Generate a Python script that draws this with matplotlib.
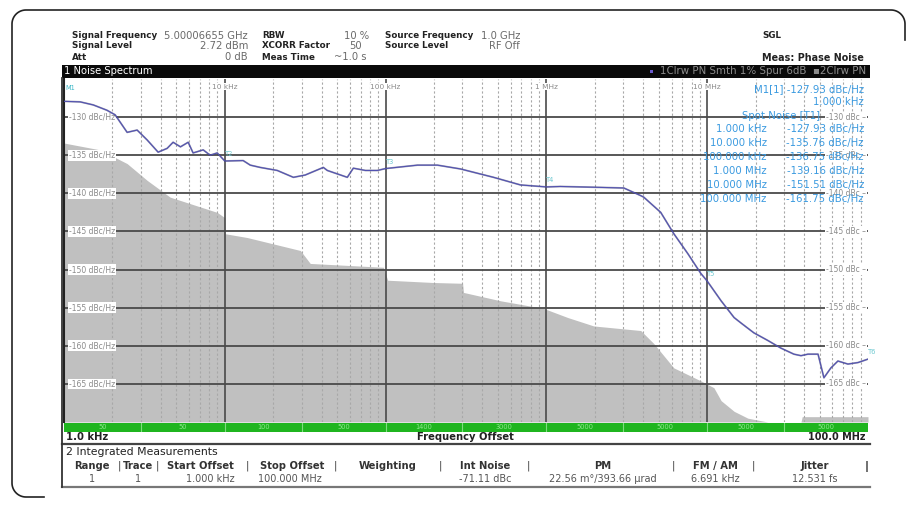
import matplotlib
matplotlib.use("Agg")
import matplotlib.pyplot as plt
from matplotlib.patches import Rectangle
from matplotlib.lines import Line2D
from matplotlib.transforms import Affine2D
import numpy as np

# ---------------- data ----------------
trace_freq_hz = [1.0e3, 1.26e3, 1.52e3, 1.85e3, 2.08e3, 2.47e3, 2.85e3, 3.29e3, 3.85e3, 4.38e3,
                 4.77e3, 5.3e3, 5.92e3, 6.35e3, 7.34e3, 8.1e3, 8.97e3, 1.0e4, 1.3e4, 1.44e4,
                 1.66e4, 2.12e4, 2.67e4, 3.16e4, 4.1e4, 4.34e4, 5.78e4, 6.3e4, 7.49e4, 8.89e4,
                 1.0e5, 1.58e5, 2.1e5, 2.92e5, 4.69e5, 6.9e5, 1.0e6, 1.22e6, 1.97e6, 3.03e6,
                 3.86e6, 4.03e6, 5.14e6, 6.2e6, 7.57e6, 9.12e6, 1.0e7, 1.22e7, 1.47e7, 1.62e7,
                 1.95e7, 2.38e7, 2.87e7, 3.46e7, 3.83e7, 4.23e7, 4.89e7, 5.32e7, 5.88e7, 6.5e7,
                 7.5e7, 8.67e7, 1.0e8]
trace_dbc = [-127.93, -128.0, -128.4, -129.1, -129.7, -132.0, -131.7, -133.0, -134.6, -134.1,
             -133.3, -133.9, -133.3, -134.7, -134.3, -135.0, -134.7, -135.76, -135.7, -136.3,
             -136.6, -137.0, -137.9, -137.6, -136.6, -137.0, -137.9, -136.7, -137.0, -137.0,
             -136.75, -136.3, -136.3, -136.8, -137.9, -138.9, -139.16, -139.1, -139.2, -139.3,
             -140.3, -140.5, -142.5, -145.3, -147.9, -150.5, -151.51, -154.1, -156.3, -157.0,
             -158.3, -159.3, -160.3, -161.1, -161.3, -161.1, -161.1, -164.2, -162.9, -162.0,
             -162.4, -162.2, -161.75]

floor_freq_hz = [1.0e3, 1.68e3, 2.47e3, 3.29e3, 4.57e3, 8.97e3, 1.0e4, 1.005e4, 1.38e4, 2.95e4,
                 3.4e4, 9.69e4, 1.03e5, 1.99e5, 3.01e5, 3.05e5, 5.19e5, 9.61e5, 1.36e6, 1.97e6,
                 3.86e6, 4.65e6, 6.2e6, 9.12e6, 1.1e7, 1.22e7, 1.47e7, 1.79e7, 2.38e7, 3.83e7,
                 3.9e7, 1.0e8]
floor_dbc = [-133.4, -134.3, -136.1, -138.3, -140.5, -142.5, -143.2, -145.3, -145.8, -147.5,
             -149.2, -149.7, -151.4, -151.7, -151.8, -153.0, -154.1, -155.1, -156.3, -157.4,
             -158.0, -159.7, -162.9, -164.6, -165.5, -167.2, -168.6, -169.5, -170.0, -170.0,
             -169.3, -169.3]

spot_freq_labels = ["1.000 kHz", "10.000 kHz", "100.000 kHz", "1.000 MHz", "10.000 MHz", "100.000 MHz"]
spot_values = ["-127.93 dBc/Hz", "-135.76 dBc/Hz", "-136.75 dBc/Hz", "-139.16 dBc/Hz",
               "-151.51 dBc/Hz", "-161.75 dBc/Hz"]
spot_freqs_hz = [1e3, 1e4, 1e5, 1e6, 1e7, 1e8]
spot_dbc = [-127.93, -135.76, -136.75, -139.16, -151.51, -161.75]
spot_tags = ["M1", "T2", "T3", "T4", "T5", "T6"]

y_levels = [-130, -135, -140, -145, -150, -155, -160, -165]
decade_labels = {1e4: "10 kHz", 1e5: "100 kHz", 1e6: "1 MHz", 1e7: "10 MHz"}

seg_edges_hz = [1e3, 3e3, 1e4, 3e4, 1e5, 3e5, 1e6, 3e6, 1e7, 3e7, 1e8]
seg_labels = ["50", "50", "100", "500", "1400", "3000", "5000", "5000", "5000", "5000"]

table_headers = ["Range", "Trace", "Start Offset", "Stop Offset", "Weighting", "Int Noise",
                 "PM", "FM / AM", "Jitter"]
table_values = ["1", "1", "1.000 kHz", "100.000 MHz", "", "-71.11 dBc",
                "22.56 m°/393.66 µrad", "6.691 kHz", "12.531 fs"]

# ---------------- layout helpers ----------------
W, H = 908, 505
fig = plt.figure(figsize=(W / 100, H / 100), dpi=100)
fig.patch.set_facecolor("white")
plt.rcParams['font.family'] = ['DejaVu Sans']


def fx(x):
    return x / W


def fy(y):
    return 1 - y / H


def ftext(x, y, s, **kw):
    kw.setdefault("va", "center")
    fig.text(fx(x), fy(y), s, **kw)


pix = Affine2D().scale(1, -1).translate(0, H)  # pixel coords (y down) -> display


def arc(cx, cy, r, a0, a1, n=20):
    t = np.radians(np.linspace(a0, a1, n))
    return list(cx + r * np.cos(t)), list(cy + r * np.sin(t))


# outer rounded frame (top, left and corners)
r = 14
xs, ys = [905], [40]
ax_, ay_ = arc(905 - r, 10 + r, r, 0, -90); xs += ax_; ys += ay_
ax_, ay_ = arc(12 + r, 10 + r, r, -90, -180); xs += ax_; ys += ay_
ax_, ay_ = arc(12 + r, 497 - r, r, 180, 90); xs += ax_; ys += ay_
xs += [44]; ys += [497]
fig.lines.append(Line2D(xs, ys, transform=pix, color="#222222", lw=1.2))

# ---------------- header ----------------
bold = dict(fontsize=6.3, color="#222222", fontweight="bold")
val = dict(fontsize=7.2, color="#6a6a6a")
ftext(72, 36, "Signal Frequency", **bold)
ftext(72, 46, "Signal Level", **bold)
ftext(72, 57, "Att", **bold)
ftext(248, 36, "5.00006655 GHz", ha="right", **val)
ftext(248, 46, "2.72 dBm", ha="right", **val)
ftext(248, 57, "0 dB", ha="right", **val)
ftext(262, 36, "RBW", **bold)
ftext(262, 46, "XCORR Factor", **bold)
ftext(262, 57, "Meas Time", **bold)
ftext(369, 36, "10 %", ha="right", **val)
ftext(362, 46, "50", ha="right", **val)
ftext(367, 57, "~1.0 s", ha="right", **val)
ftext(385, 36, "Source Frequency", **bold)
ftext(385, 46, "Source Level", **bold)
ftext(520, 36, "1.0 GHz", ha="right", **val)
ftext(520, 46, "RF Off", ha="right", **val)
ftext(762, 36, "SGL", **bold)
ftext(762, 58, "Meas: Phase Noise", fontsize=6.9, color="#222222", fontweight="bold")

# black title bar
fig.patches.append(Rectangle((62, 65), 808, 13, transform=pix, facecolor="#0a0a0a",
                             edgecolor="none"))
ftext(64, 71.5, "1 Noise Spectrum", fontsize=7.2, color="white")
ftext(866, 71.5, "1Clrw PN Smth 1% Spur 6dB  \u25AA2Clrw PN", ha="right", fontsize=7.4,
      color="#8c8c8c")
fig.patches.append(Rectangle((650, 70), 3, 3, transform=pix, facecolor="#6a5acd", edgecolor="none"))

# ---------------- main axes ----------------
ax = fig.add_axes([fx(64), fy(422), (868 - 64) / W, (422 - 79) / H])
ax.set_xscale("log")
ax.set_xlim(1e3, 1e8)
ax.set_ylim(-170, -125)
ax.set_xticks([])
ax.set_yticks([])
ax.minorticks_off()
for s in ["top", "right", "bottom"]:
    ax.spines[s].set_visible(False)
ax.spines["left"].set_color("#222222")
ax.spines["left"].set_linewidth(1.5)

# noise floor (gray area)
ax.fill_between(floor_freq_hz, floor_dbc, -170, color="#c0c0c0", lw=0, zorder=1)

# grid
for d in range(3, 8):
    base = 10.0 ** d
    for m in range(2, 10):
        ax.axvline(base * m, color="#a8a8a8", lw=0.8, ls=(0, (2, 2)), zorder=2)
for d in [1e4, 1e5, 1e6, 1e7]:
    ax.axvline(d, color="#4a4a4a", lw=1.2, zorder=2)
for yv in y_levels:
    ax.axhline(yv, color="#4a4a4a", lw=1.3, zorder=2)

# y labels inside the plot
for yv in y_levels:
    ax.text(1.07e3, yv, f"{yv} dBc/Hz", fontsize=5.5, color="#8a8a8a", va="center", ha="left",
            zorder=3, bbox=dict(facecolor="white", edgecolor="none", pad=0.6))
    ax.text(9.75e7, yv, f"{yv} dBc \u2013", fontsize=5.5, color="#8a8a8a", va="center",
            ha="right", zorder=3, bbox=dict(facecolor="white", edgecolor="none", pad=0.6))

for f, lab in decade_labels.items():
    ax.text(f, -125.6, lab, fontsize=5.3, color="#8a8a8a", ha="center", va="top", zorder=3,
            bbox=dict(facecolor="white", edgecolor="none", pad=0.4))

# trace
ax.plot(trace_freq_hz, trace_dbc, color="#2e2e5a", lw=1.3, zorder=4, alpha=0.45)
ax.plot(trace_freq_hz, trace_dbc, color="#5252b0", lw=0.8, zorder=5)

# marker tags
for f, v, t in zip(spot_freqs_hz, spot_dbc, spot_tags):
    if t == "M1":
        ax.text(1.02e3, -126.2, t, fontsize=4.8, color="#40b8c8", va="center", zorder=6)
    else:
        ax.text(f, v + 0.9, t, fontsize=4.8, color="#6cc8d0", va="center", ha="left", zorder=6)

# marker info text (blue)
blue = "#3a9ae0"
mk = dict(fontsize=7.3, color=blue, zorder=7)
ax.text(0.995, 0.972, "M1[1] -127.93 dBc/Hz", transform=ax.transAxes, ha="right", va="center", **mk)
ax.text(0.995, 0.933, "1.000 kHz", transform=ax.transAxes, ha="right", va="center", **mk)
ax.text(0.94, 0.893, "Spot Noise [T1]", transform=ax.transAxes, ha="right", va="center", **mk)
for i, (fl, vl) in enumerate(zip(spot_freq_labels, spot_values)):
    yy = 0.853 - i * 0.0405
    ax.text(0.874, yy, fl, transform=ax.transAxes, ha="right", va="center", **mk)
    ax.text(0.995, yy, vl, transform=ax.transAxes, ha="right", va="center", **mk)

# ---------------- green bar ----------------
gax = fig.add_axes([fx(64), fy(432), (868 - 64) / W, 9.5 / H])
gax.set_xscale("log")
gax.set_xlim(1e3, 1e8)
gax.set_ylim(0, 1)
gax.set_facecolor("#1fb51f")
gax.set_xticks([])
gax.set_yticks([])
gax.minorticks_off()
for s in gax.spines.values():
    s.set_visible(False)
for e in seg_edges_hz[1:-1]:
    gax.axvline(e, color="#7fdc7f", lw=0.8)
for a, b, lab in zip(seg_edges_hz[:-1], seg_edges_hz[1:], seg_labels):
    gax.text(np.sqrt(a * b), 0.5, lab, fontsize=4.8, color="#8ee88e", ha="center", va="center")

ftext(66, 437, "1.0 kHz", fontsize=7.2, fontweight="bold", color="#222222")
ftext(465, 437, "Frequency Offset", fontsize=7.2, fontweight="bold", color="#222222", ha="center")
ftext(866, 437, "100.0 MHz", fontsize=7.0, fontweight="bold", color="#222222", ha="right")

# ---------------- lines ----------------
fig.lines.append(Line2D([62, 870], [444, 444], transform=pix, color="#444444", lw=1.6))
fig.lines.append(Line2D([62, 870], [487, 487], transform=pix, color="#777777", lw=1.6))
fig.lines.append(Line2D([62, 62], [78, 487], transform=pix, color="#333333", lw=1.3))

# ---------------- integrated measurements ----------------
ftext(66, 452, "2 Integrated Measurements", fontsize=7.8, color="#222222")
col_x = [92, 138, 200, 292, 388, 485, 603, 715, 815]
sep_x = [119, 157, 247, 335, 440, 528, 673, 753]
for x, h in zip(col_x, table_headers):
    ftext(x, 466, h, fontsize=7.2, fontweight="bold", color="#333333", ha="center")
for x in sep_x:
    ftext(x, 466, "|", fontsize=7.2, color="#444444", ha="center")
ftext(867, 466, "|", fontsize=8, fontweight="bold", color="#222222", ha="center")
val_x = [92, 138, 210, 290, 388, 485, 603, 715, 815]
for x, v in zip(val_x, table_values):
    if v:
        ftext(x, 479, v, fontsize=7.0, color="#555555", ha="center")

fig.savefig("out.png", dpi=100, facecolor="white")
